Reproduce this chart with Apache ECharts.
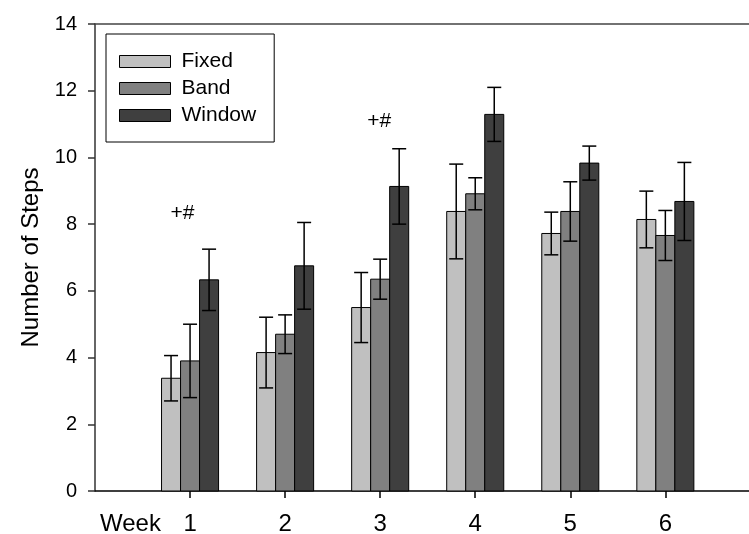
<!DOCTYPE html>
<html><head><meta charset="utf-8">
<script src="https://cdn.jsdelivr.net/npm/echarts@6/dist/echarts.min.js"></script>
<style>html,body{margin:0;padding:0;background:#fff}#c{width:749px;height:534px}</style>
</head><body><div id="c"></div>
<script>
var weeks = [1, 2, 3, 4, 5, 6];
var seriesNames = ['Fixed', 'Band', 'Window'];
var fixedMean = [3.38, 4.15, 5.50, 8.38, 7.72, 8.14];
var fixedErr = [0.68, 1.06, 1.05, 1.42, 0.64, 0.85];
var bandMean = [3.90, 4.70, 6.35, 8.91, 8.38, 7.66];
var bandErr = [1.10, 0.58, 0.60, 0.48, 0.89, 0.75];
var windowMean = [6.33, 6.75, 9.13, 11.29, 9.83, 8.68];
var windowErr = [0.92, 1.30, 1.13, 0.81, 0.51, 1.17];
var yTicks = [0, 2, 4, 6, 8, 10, 12, 14];
var annotX = [0.92, 2.99];
var annotY = [8.34, 11.09];
var annotText = ['+#', '+#'];

var FONT = 'Liberation Sans, Arial, sans-serif';
var colors = ['#c0c0c0', '#808080', '#3f3f3f'];
var means = [fixedMean, bandMean, windowMean];
var errs = [fixedErr, bandErr, windowErr];
var BW = 0.2;

function makeSeries(idx) {
  var data = weeks.map(function (w, i) { return [w, means[idx][i], errs[idx][i]]; });
  return {
    type: 'custom',
    name: seriesNames[idx],
    xAxisIndex: 0, yAxisIndex: 0,
    itemStyle: { color: colors[idx] },
    data: data,
    z: 3,
    renderItem: function (params, api) {
      var x = api.value(0) + (idx - 1) * BW;
      var m = api.value(1), e = api.value(2);
      var tl = api.coord([x - BW / 2, m]);
      var br = api.coord([x + BW / 2, 0]);
      var c = api.coord([x, 0]);
      var top = api.coord([x, m + e]);
      var bot = api.coord([x, m - e]);
      var cap = 7;
      return {
        type: 'group',
        children: [
          { type: 'rect', shape: { x: tl[0], y: tl[1], width: br[0] - tl[0], height: br[1] - tl[1] },
            style: { fill: colors[idx], stroke: '#000', lineWidth: 1 } },
          { type: 'line', shape: { x1: c[0], y1: top[1], x2: c[0], y2: bot[1] }, style: { stroke: '#000', lineWidth: 1.5 } },
          { type: 'line', shape: { x1: c[0] - cap, y1: top[1], x2: c[0] + cap, y2: top[1] }, style: { stroke: '#000', lineWidth: 1.5 } },
          { type: 'line', shape: { x1: c[0] - cap, y1: bot[1], x2: c[0] + cap, y2: bot[1] }, style: { stroke: '#000', lineWidth: 1.5 } }
        ]
      };
    }
  };
}

var series = [makeSeries(0), makeSeries(1), makeSeries(2)];
series.push({
  type: 'custom',
  name: 'annot',
  data: annotX.map(function (x, i) { return [x, annotY[i], annotText[i]]; }),
  renderItem: function (params, api) {
    var p = api.coord([api.value(0), api.value(1)]);
    return { type: 'text', x: p[0], y: p[1],
      style: { text: annotText[params.dataIndex], fill: '#000', font: '21px ' + FONT, align: 'center', verticalAlign: 'middle' } };
  },
  z: 5
});

var chart = echarts.init(document.getElementById('c'), null, { renderer: 'canvas' });
chart.setOption({
  animation: false,
  backgroundColor: '#fff',
  grid: { left: 95, top: 24, right: 0, bottom: 43, containLabel: false, outerBoundsMode: 'none' },
  legend: {
    orient: 'vertical', left: 106, top: 34,
    data: seriesNames.map(function (n, i) {
      return { name: n, icon: 'rect', itemStyle: { color: colors[i], borderColor: '#000', borderWidth: 1 } };
    }),
    itemWidth: 51, itemHeight: 12, itemGap: 0,
    padding: [14, 18, 13, 13],
    borderColor: '#000', borderWidth: 1,
    textStyle: { fontFamily: FONT, fontSize: 21, color: '#000', lineHeight: 27, padding: [0, 0, 0, 6] },
    selectedMode: false
  },
  xAxis: [{
    type: 'value', min: 0, max: 6.88, interval: 1,
    splitLine: { show: false },
    axisLine: { show: true, lineStyle: { color: '#000', width: 1.5 } },
    axisTick: { show: true, length: 7, customValues: weeks, lineStyle: { color: '#000', width: 1.5 } },
    axisLabel: { customValues: weeks, fontFamily: FONT, fontSize: 24, color: '#000', margin: 21 }
  }, {
    type: 'value', min: 0, max: 6.88, position: 'top',
    splitLine: { show: false },
    axisLine: { show: true, lineStyle: { color: '#444', width: 1.5 } },
    axisTick: { show: false }, axisLabel: { show: false }
  }],
  yAxis: {
    type: 'value', min: 0, max: 14, interval: 2,
    name: 'Number of Steps', nameLocation: 'middle', nameGap: 48,
    nameTextStyle: { fontFamily: FONT, fontSize: 24, color: '#000' },
    splitLine: { show: false },
    axisLine: { show: true, lineStyle: { color: '#333', width: 1.5 } },
    axisTick: { show: true, length: 7, lineStyle: { color: '#333', width: 1.5 } },
    axisLabel: { fontFamily: FONT, fontSize: 20, color: '#000', margin: 18,
      formatter: function (v) { return yTicks.indexOf(v) >= 0 ? String(v) : ''; } }
  },
  graphic: [{ type: 'text', left: 100, top: 512, style: { text: 'Week', font: '24px ' + FONT, fill: '#000' } }],
  series: series
});
</script></body></html>
